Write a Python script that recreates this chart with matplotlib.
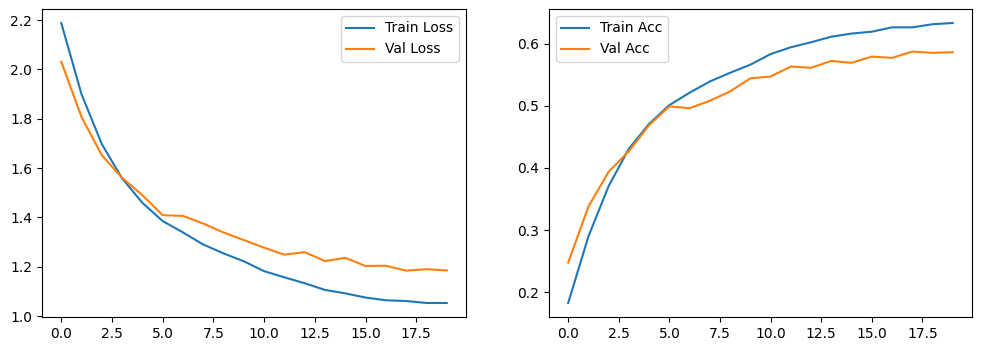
import numpy as np
import matplotlib
matplotlib.use("Agg")
import matplotlib.pyplot as plt

epochs = np.arange(20)

train_loss = [2.188, 1.899, 1.697, 1.558, 1.459, 1.385, 1.339, 1.290, 1.254, 1.222,
              1.182, 1.157, 1.133, 1.106, 1.092, 1.075, 1.064, 1.061, 1.053, 1.053]
val_loss = [2.031, 1.807, 1.652, 1.560, 1.490, 1.409, 1.406, 1.375, 1.339, 1.308,
            1.277, 1.249, 1.259, 1.223, 1.236, 1.203, 1.204, 1.184, 1.190, 1.185]

train_acc = [0.183, 0.290, 0.371, 0.431, 0.471, 0.501, 0.521, 0.539, 0.553, 0.566,
             0.583, 0.594, 0.602, 0.611, 0.616, 0.619, 0.626, 0.626, 0.631, 0.633]
val_acc = [0.248, 0.338, 0.394, 0.427, 0.469, 0.499, 0.496, 0.508, 0.523, 0.544,
           0.547, 0.563, 0.561, 0.572, 0.569, 0.579, 0.577, 0.587, 0.585, 0.586]

fig = plt.figure(figsize=(9.81, 3.51), dpi=100)

# loss
ax1 = fig.add_axes([0.0428, 0.0969, 0.4322, 0.8775])
ax1.plot(epochs, train_loss, label='Train Loss')
ax1.plot(epochs, val_loss, label='Val Loss')
ax1.legend()

# accuracy
ax2 = fig.add_axes([0.5596, 0.0969, 0.4312, 0.8775])
ax2.plot(epochs, train_acc, label='Train Acc')
ax2.plot(epochs, val_acc, label='Val Acc')
ax2.legend()

fig.savefig("out.png", dpi=100)
